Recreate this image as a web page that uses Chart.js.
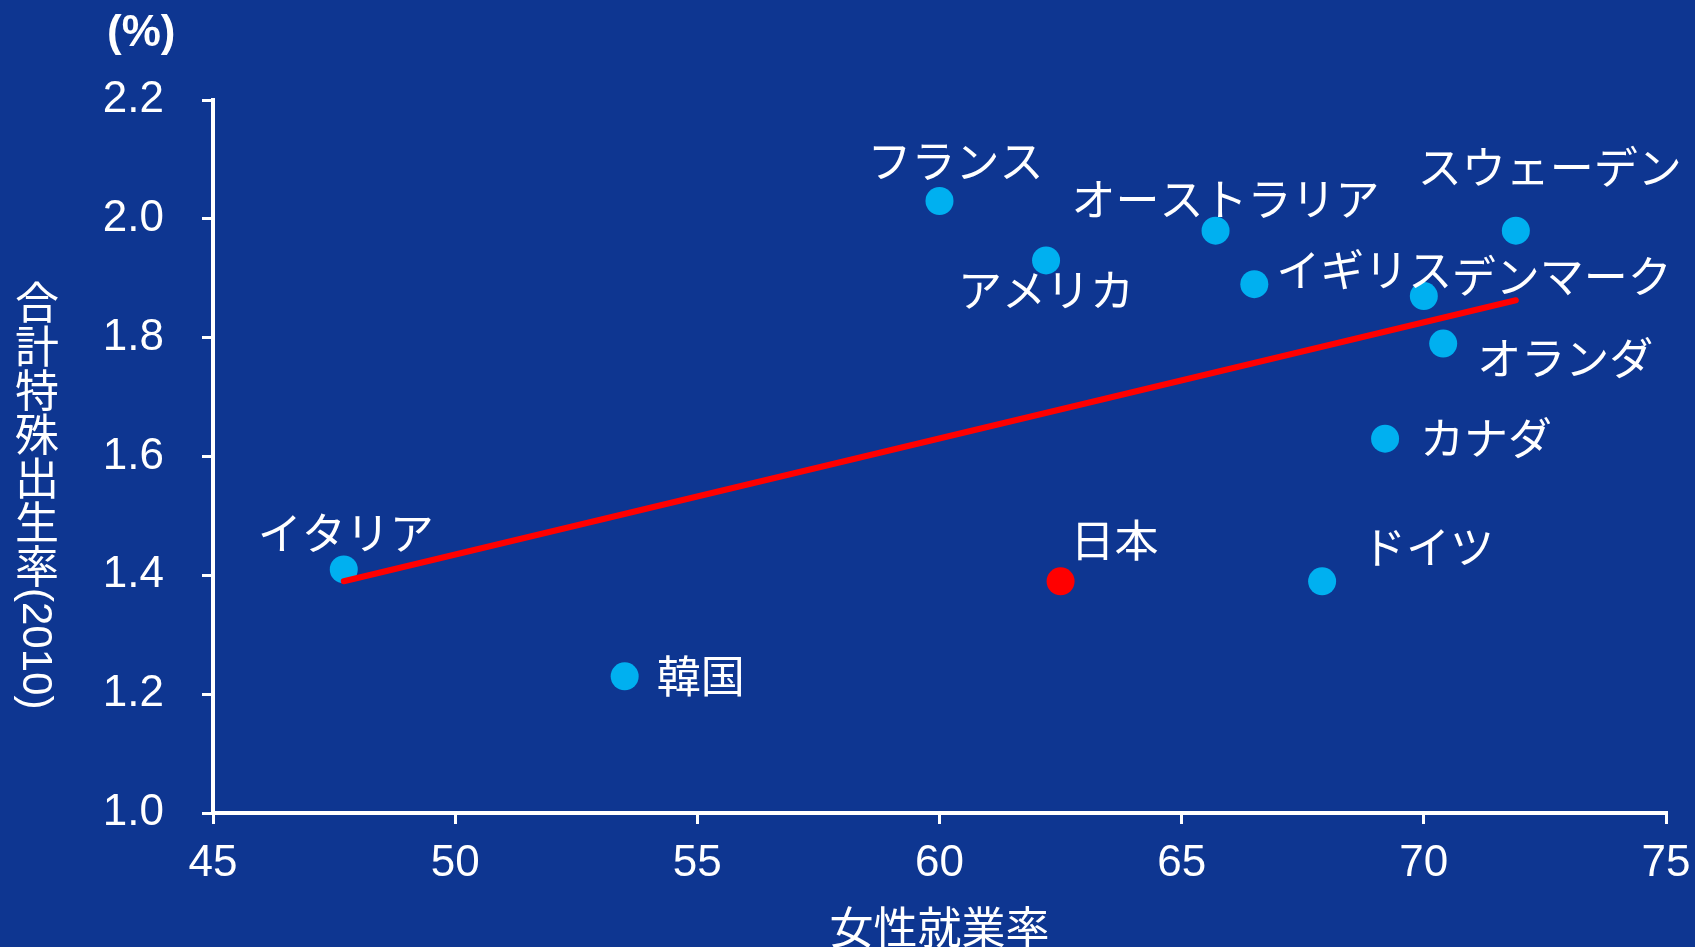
<!DOCTYPE html>
<html lang="ja">
<head>
<meta charset="utf-8">
<title>女性就業率と合計特殊出生率</title>
<script src="https://cdn.jsdelivr.net/npm/chart.js@4.4.1/dist/chart.umd.min.js"></script>
<style>
  html, body {
    margin: 0;
    padding: 0;
    background: #0e3691;
    overflow: hidden;
  }
  #wrap {
    position: relative;
    width: 1695px;
    height: 947px;
  }
  #unit {
    position: absolute;
    left: 107px;
    top: 6px;
    color: #fff;
    font: bold 44px "Liberation Sans", Arial, sans-serif;
  }
  #yTitle {
    position: absolute;
    left: 13px;
    top: 280px;
    color: #fff;
    font: 44px "Noto Sans CJK JP", sans-serif;
    writing-mode: vertical-rl;
    line-height: 1;
  }
  #yTitle span {
    font: 42px "Liberation Sans", Arial, sans-serif;
  }
</style>
</head>
<body>
<div id="wrap">
  <canvas id="chart" width="1695" height="947"></canvas>
  <div id="unit">(%)</div>
  <div id="yTitle">合計特殊出生率<span>(2010)</span></div>
</div>
<script>
var countries = ["イタリア", "韓国", "フランス", "アメリカ", "日本", "オーストラリア",
  "イギリス", "ドイツ", "カナダ", "デンマーク", "オランダ", "スウェーデン"];
var employmentRate = [47.7, 53.5, 60.0, 62.2, 62.5, 65.7, 66.5, 67.9, 69.2, 70.0, 70.4, 71.9];
var fertilityRate = [1.41, 1.23, 2.03, 1.93, 1.39, 1.98, 1.89, 1.39, 1.63, 1.87, 1.79, 1.98];

var trendX = [47.7, 71.9];
var trendY = [1.39, 1.863];

var xTicks = [45, 50, 55, 60, 65, 70, 75];
var yTicks = [1.0, 1.2, 1.4, 1.6, 1.8, 2.0, 2.2];

// label placement next to each dot: [dx, dy, align]
var labelPlace = [
  [2, -36, "center"], [32, 0, "left"], [16, -40, "center"], [0, 30, "center"],
  [10, -41, "left"], [10, -31, "center"], [22, -14, "left"], [40, -34, "left"],
  [35, 0, "left"], [28, -20, "left"], [34, 15, "left"], [34, -63, "center"]
];

var points = countries.map(function (c, i) {
  return { x: employmentRate[i], y: fertilityRate[i] };
});
var trend = trendX.map(function (x, i) {
  return { x: x, y: trendY[i] };
});

var pointLabels = {
  id: "pointLabels",
  afterDatasetsDraw: function (chart) {
    var meta = chart.getDatasetMeta(1);
    var ctx = chart.ctx;
    ctx.save();
    ctx.fillStyle = "#fff";
    ctx.font = '44px "Noto Sans CJK JP", sans-serif';
    ctx.textBaseline = "middle";
    meta.data.forEach(function (pt, i) {
      var p = labelPlace[i];
      ctx.textAlign = p[2];
      ctx.fillText(countries[i], pt.x + p[0], pt.y + p[1]);
    });
    ctx.restore();
  }
};

var axisGrid = {
  drawOnChartArea: false,
  drawTicks: true,
  tickLength: 11,
  color: "#fff",
  lineWidth: 3
};

new Chart(document.getElementById("chart"), {
  type: "scatter",
  data: {
    datasets: [
      {
        type: "line",
        data: trend,
        borderColor: "#ff0000",
        borderWidth: 6,
        borderCapStyle: "round",
        pointRadius: 0,
        fill: false,
        order: 0
      },
      {
        data: points,
        pointRadius: 14,
        pointHoverRadius: 14,
        pointBorderWidth: 0,
        pointBackgroundColor: countries.map(function (c) {
          return c === "日本" ? "#ff0000" : "#00b0f0";
        }),
        order: 1
      }
    ]
  },
  options: {
    responsive: false,
    animation: false,
    layout: { padding: { top: 100, right: 29, left: 0, bottom: 0 } },
    plugins: {
      legend: { display: false },
      tooltip: { enabled: false }
    },
    scales: {
      x: {
        type: "linear",
        min: 45,
        max: 75,
        afterBuildTicks: function (scale) {
          scale.ticks = xTicks.map(function (v) { return { value: v }; });
        },
        afterFit: function (scale) {
          scale.height = 134;
          scale.paddingLeft = 0;
          scale.paddingRight = 0;
        },
        grid: axisGrid,
        border: { color: "#fff", width: 4 },
        ticks: {
          color: "#fff",
          padding: 13,
          font: { family: "Liberation Sans", size: 44 }
        },
        title: {
          display: true,
          text: "女性就業率",
          color: "#fff",
          padding: { top: 0, bottom: -2 },
          font: { family: "Noto Sans CJK JP", size: 44, lineHeight: 1 }
        }
      },
      y: {
        type: "linear",
        min: 1.0,
        max: 2.2,
        afterBuildTicks: function (scale) {
          scale.ticks = yTicks.map(function (v) { return { value: v }; });
        },
        afterFit: function (scale) {
          scale.width = 213;
          scale.paddingTop = 0;
          scale.paddingBottom = 0;
        },
        grid: axisGrid,
        border: { color: "#fff", width: 4 },
        ticks: {
          color: "#fff",
          padding: 38,
          font: { family: "Liberation Sans", size: 44 },
          callback: function (v) { return v.toFixed(1); }
        }
      }
    }
  },
  plugins: [pointLabels]
});
</script>
</body>
</html>
